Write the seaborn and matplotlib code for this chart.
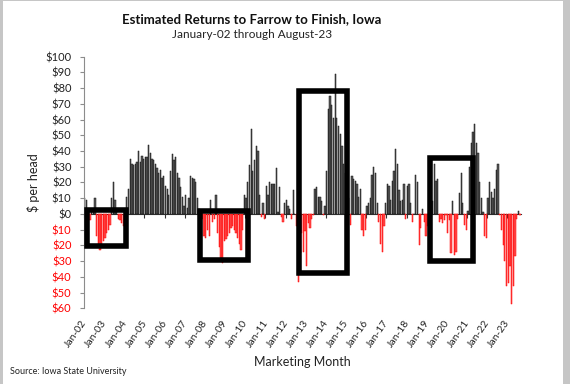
import numpy as np
import pandas as pd
import matplotlib
matplotlib.use("Agg")
import matplotlib.pyplot as plt
import seaborn as sns
from matplotlib.patches import Rectangle

# ---- data: estimated monthly returns ($ per head), Jan-2002 .. Aug-2023 ----
y2002 = [10, 9, 2, -4, 1, 3, 10, -14, -20, -23, -19, -17]
y2003 = [-15, -12, -10, -7, 10, 20, 9, 3, -3, -4, -6, -8]
y2004 = [3, 11, 16, 35, 32, 31, 32, 33, 40, 33, 37, 35]
y2005 = [36, 36, 44, 39, 35, 34, 32, 29, 26, 28, 23, 24]
y2006 = [18, 16, 12, 27, 38, 34, 36, 26, 23, 17, 11, 5]
y2007 = [12, 4, 10, 24, 23, 22, 20, 10, 3, -1, -3, -14]
y2008 = [-15, -10, -14, 9, -5, -3, 12, -12, -21, -28, -31, -17]
y2009 = [-16, -14, -12, -9, -8, -10, -12, -15, -19, -23, -10, 12]
y2010 = [10, 20, 31, 54, 27, 34, 43, 40, 12, -2, 7, -3]
y2011 = [18, 12, 20, 19, 19, 19, 29, 1, 17, -2, -5, 7]
y2012 = [9, 5, 3, -3, 15, 0, -8, -43, -25, -12, -24, -11]
y2013 = [-33, -6, -9, -3, -1, 16, 17, 11, 11, 8, -1, 5]
y2014 = [27, 67, 75, 69, 61, 89, 61, 56, 51, 43, 32, 26]
y2015 = [22, 10, -7, 24, 22, 21, 19, 11, 16, -10, -14, -10]
y2016 = [5, 7, 10, 25, 30, 26, 7, -5, -19, -24, -8, 7]
y2017 = [19, 18, 9, 21, 27, 41, 32, 15, 8, 9, 19, -3]
y2018 = [18, 19, 7, -5, 0, 25, 20, -20, -9, 3, -5, -14]
y2019 = [-8, -2, 3, 8, 32, 21, 22, -5, -3, -6, -4, -1]
y2020 = [-12, -4, -25, 8, -26, -24, -3, 13, 26, 7, -7, -10]
y2021 = [2, 30, 45, 52, 57, 45, 39, 20, 10, 1, -14, -15]
y2022 = [10, 20, 14, 10, 16, 28, 32, -1, -10, -20, -30, -46]
y2023 = [-44, -33, -57, -46, -27, -3, 2, -1]

returns = (y2002 + y2003 + y2004 + y2005 + y2006 + y2007 + y2008 + y2009 + y2010
           + y2011 + y2012 + y2013 + y2014 + y2015 + y2016 + y2017 + y2018 + y2019
           + y2020 + y2021 + y2022 + y2023)
months = list(pd.date_range("2002-01-01", periods=len(returns), freq="MS").strftime("%b-%y"))
y_ticks = list(range(-60, 101, 10))

# highlighted periods (category position left/right, value top/bottom)
highlight_boxes = [(1.0, 24.4, 2.8, -20.6),
                   (68.7, 97.4, 1.6, -29.0),
                   (127.4, 156.2, 77.9, -37.3),
                   (205.5, 230.9, 35.6, -29.7)]

df = pd.DataFrame({"month": months, "ret": returns})
df["sign"] = np.where(df["ret"] >= 0, "gain", "loss")

sns.set_theme(style="white")
plt.rcParams["font.family"] = ["Lato", "DejaVu Sans"]

W, H = 570, 384
fig = plt.figure(figsize=(W / 100, H / 100), dpi=100)
fig.patch.set_facecolor("#c6c6c6")
fig.patches.append(Rectangle((3 / W, 0), 560 / W, 1 - 1 / H, transform=fig.transFigure,
                             facecolor="white", edgecolor="none", zorder=-1))

ax = fig.add_axes([84 / W, 1 - 308.3 / H, 436.8 / W, 251.7 / H])
ax.set_facecolor("white")
sns.barplot(data=df, x="month", y="ret", hue="sign", order=months,
            hue_order=["gain", "loss"],
            palette={"gain": "#5a5a5a", "loss": "#ff5050"},
            dodge=False, width=0.75, saturation=1, legend=False, ax=ax)
for p in ax.patches:
    h = p.get_height()
    p.set_edgecolor("#111111" if h >= 0 else "#ff0000")
    p.set_linewidth(0.35)

n = len(returns)
ax.set_xlim(-0.5, n - 0.5)
ax.set_ylim(-60, 100)

ax.set_yticks(y_ticks)
ax.set_yticklabels([f"${abs(v)}" for v in y_ticks])
for lab, v in zip(ax.get_yticklabels(), y_ticks):
    lab.set_color("#ff0000" if v < 0 else "#222222")
ax.tick_params(axis="y", left=True, direction="out", length=3, width=0.8,
               color="#8c8c8c", labelsize=8, pad=6)

ax.set_xticks(range(0, n, 12))
ax.set_xticklabels(months[::12], rotation=55, ha="right", va="center",
                   rotation_mode="anchor")
ax.tick_params(axis="x", bottom=False, length=0, labelsize=7.5, pad=9,
               labelcolor="#222222")

for s in ["top", "right", "bottom"]:
    ax.spines[s].set_visible(False)
ax.spines["left"].set_color("#8c8c8c")
ax.spines["left"].set_linewidth(0.8)

# zero axis line with year boundary ticks
zero_frac = (0 - (-60)) / 160
sec = ax.secondary_xaxis(zero_frac)
sec.set_xticks(np.arange(-0.5, n, 12))
sec.tick_params(axis="x", bottom=True, direction="out", length=3, width=0.8,
                color="#333333", labelbottom=False)
sec.spines["bottom"].set_color("#333333")
sec.spines["bottom"].set_linewidth(0.8)

for left, right, top, bottom in highlight_boxes:
    ax.add_patch(Rectangle((left, bottom), right - left, top - bottom, fill=False,
                           edgecolor="black", linewidth=4, clip_on=False, zorder=5))

ax.set_ylabel("$ per head", fontsize=9, color="#222222")
ax.yaxis.set_label_coords(-0.10, 0.5)
ax.set_xlabel("")

fig.text(252 / W, 1 - 19 / H, "Estimated Returns to Farrow to Finish, Iowa",
         ha="center", va="center", fontsize=9.5, fontweight="bold", color="#111111")
fig.text(252 / W, 1 - 34 / H, "January-02 through August-23",
         ha="center", va="center", fontsize=8.5, color="#222222")
fig.text(302 / W, 1 - 362 / H, "Marketing Month", ha="center", va="center",
         fontsize=9, color="#222222")
fig.text(10 / W, 1 - 372 / H, "Source: Iowa State University", ha="left",
         va="center", fontsize=6.5, color="#222222")

fig.savefig("out.png", dpi=100, facecolor=fig.get_facecolor())
